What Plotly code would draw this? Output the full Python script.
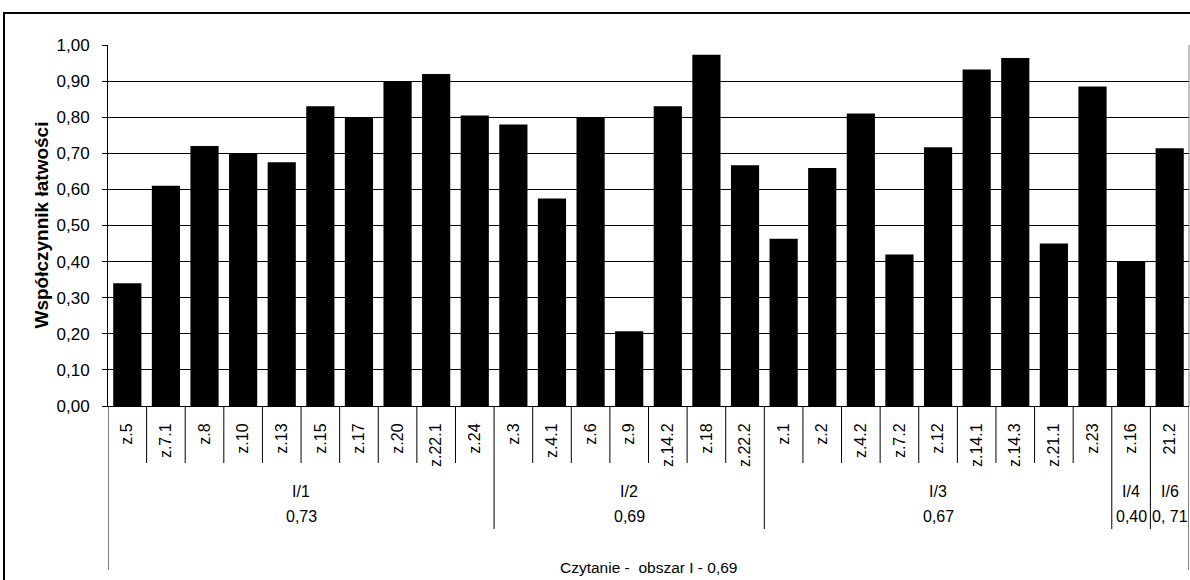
import plotly.graph_objects as go

# ---- data ----
categories = ["z.5", "z.7.1", "z.8", "z.10", "z.13", "z.15", "z.17", "z.20", "z.22.1", "z.24",
              "z.3", "z.4.1", "z.6", "z.9", "z.14.2", "z.18", "z.22.2",
              "z.1", "z.2", "z.4.2", "z.7.2", "z.12", "z.14.1", "z.14.3", "z.21.1", "z.23",
              "z.16",
              "21.2"]
values = [0.34, 0.61, 0.72, 0.70, 0.675, 0.83, 0.80, 0.90, 0.92, 0.805,
          0.78, 0.575, 0.80, 0.207, 0.83, 0.973, 0.667,
          0.463, 0.659, 0.81, 0.42, 0.717, 0.932, 0.964, 0.45, 0.885,
          0.40,
          0.714]
group_names = ["I/1", "I/2", "I/3", "I/4", "I/6"]
group_sizes = [10, 7, 9, 1, 1]
group_values = ["0,73", "0,69", "0,67", "0,40", "0, 71"]
overall_label = "Czytanie - &nbsp;obszar I - 0,69"
y_title = "Współczynnik łatwości"

# ---- layout geometry ----
W, H = 1190, 580
ML, MR, MT, MB = 108, 1, 45, 174
PW = W - ML - MR
PH = H - MT - MB
FONT = "Liberation Sans, Arial, sans-serif"


def py(px):
    return (H - MB - px) / PH


def pxx(px):
    return (px - ML) / PW


N = len(categories)

fig = go.Figure()
fig.add_trace(go.Bar(
    x=list(range(N)), y=values,
    marker=dict(color="black", line=dict(width=0)),
    hoverinfo="skip", showlegend=False,
))

shapes = []
annotations = []

bounds = [0]
for s in group_sizes:
    bounds.append(bounds[-1] + s)

for i in range(1, N):
    yb = py(529) if i in bounds else py(463)
    shapes.append(dict(type="line", xref="x", yref="paper", x0=i - 0.5, x1=i - 0.5,
                       y0=0, y1=yb, line=dict(color="black", width=1)))
for xb in (-0.5, N - 0.5):
    shapes.append(dict(type="line", xref="x", yref="paper", x0=xb, x1=xb,
                       y0=0, y1=py(570), line=dict(color="black", width=1)))

shapes.append(dict(type="line", xref="paper", yref="paper", x0=1, x1=1, y0=0, y1=1,
                   line=dict(color="#808080", width=1)))

shapes.append(dict(type="rect", xref="paper", yref="paper",
                   x0=pxx(4), x1=pxx(1210), y0=py(13), y1=py(620),
                   line=dict(color="black", width=2), fillcolor="rgba(0,0,0,0)"))

for gi, name in enumerate(group_names):
    center = (bounds[gi] + bounds[gi + 1] - 1) / 2
    annotations.append(dict(xref="x", yref="paper", x=center, y=py(491), text=name,
                            showarrow=False, xanchor="center", yanchor="middle",
                            font=dict(family=FONT, size=16, color="black")))
    annotations.append(dict(xref="x", yref="paper", x=center, y=py(516), text=group_values[gi],
                            showarrow=False, xanchor="center", yanchor="middle",
                            font=dict(family=FONT, size=16, color="black")))

annotations.append(dict(xref="x", yref="paper", x=(N - 1) / 2, y=py(567), text=overall_label,
                        showarrow=False, xanchor="center", yanchor="middle",
                        font=dict(family=FONT, size=15.5, color="black")))

annotations.append(dict(xref="paper", yref="paper", x=pxx(41), y=0.5, text="<b>" + y_title + "</b>",
                        textangle=-90, showarrow=False, xanchor="center", yanchor="middle",
                        font=dict(family=FONT, size=19, color="black")))

fig.update_layout(
    width=W, height=H,
    margin=dict(l=ML, r=MR, t=MT, b=MB, pad=0),
    paper_bgcolor="white", plot_bgcolor="white",
    separators=", ",
    bargap=0.27,
    shapes=shapes,
    annotations=annotations,
    font=dict(family=FONT, color="black"),
)
fig.update_xaxes(
    range=[-0.5, N - 0.5],
    tickmode="array", tickvals=list(range(N)), ticktext=categories,
    tickangle=-90, ticks="", ticklabelstandoff=10,
    tickfont=dict(family=FONT, size=16, color="black"),
    showline=True, linecolor="black", linewidth=1,
    showgrid=False, zeroline=False, fixedrange=True,
)
fig.update_yaxes(
    range=[0, 1], dtick=0.1, tick0=0, tickformat=".2f",
    ticks="outside", ticklen=5, tickcolor="black", ticklabelstandoff=9,
    tickfont=dict(family=FONT, size=17, color="black"),
    showline=True, linecolor="black", linewidth=1,
    showgrid=True, gridcolor="black", gridwidth=1,
    zeroline=False, fixedrange=True,
)

fig.write_html("out.html", config={"displayModeBar": False},
               post_script="document.body.style.margin='0px';document.body.style.overflow='hidden';")
